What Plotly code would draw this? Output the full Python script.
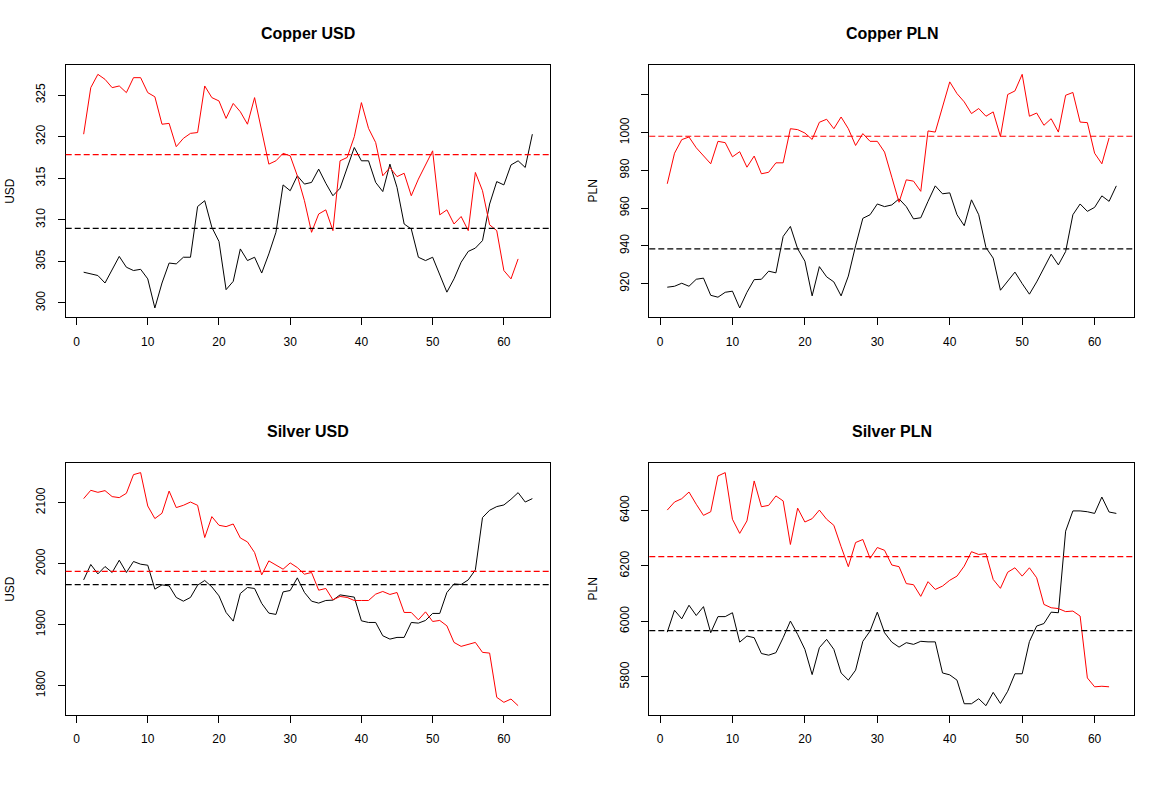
import numpy as np
import plotly.graph_objects as go

# ---------------- data ----------------
titles = ["Copper USD", "Copper PLN", "Silver USD", "Silver PLN"]
units = ["USD", "PLN", "USD", "PLN"]

copper_usd_black = [303.7, 303.5, 303.3, 302.4, 304.0, 305.6, 304.3, 303.9, 304.05, 302.9,
                    299.4, 302.4, 304.8, 304.7, 305.5, 305.5, 311.6, 312.3, 309.1, 307.4,
                    301.6, 302.6, 306.5, 305.1, 305.5, 303.6, 305.9, 308.5, 314.2, 313.5,
                    315.3, 314.3, 314.5, 316.1, 314.4, 312.9, 313.8, 316.3, 318.7, 317.1,
                    317.1, 314.5, 313.4, 316.7, 313.9, 309.5, 308.9, 305.5, 305.1, 305.5,
                    303.5, 301.3, 302.9, 304.9, 306.2, 306.6, 307.5, 311.9, 314.6, 314.2,
                    316.6, 317.1, 316.3, 320.3]
copper_usd_red = [320.3, 325.9, 327.5, 326.9, 325.9, 326.1, 325.3, 327.1, 327.1, 325.3,
                  324.8, 321.5, 321.6, 318.8, 319.8, 320.4, 320.5, 326.1, 324.7, 324.3,
                  322.2, 324.0, 323.0, 321.5, 324.7, 320.8, 316.7, 317.1, 318.0, 317.7,
                  315.3, 312.3, 308.5, 310.7, 311.2, 308.7, 317.1, 317.5, 320.0, 324.1,
                  321.0, 319.3, 315.3, 316.3, 315.2, 315.6, 312.9, 314.9, 316.7, 318.3,
                  310.6, 311.2, 309.5, 310.4, 308.7, 315.7, 313.5, 309.4, 308.7, 303.9,
                  302.9, 305.3]

copper_pln_black = [918.1, 918.6, 920.2, 918.6, 922.3, 922.9, 913.8, 912.8, 915.4, 916.0,
                    907.1, 915.4, 922.1, 922.3, 926.6, 925.7, 945.0, 950.3, 938.5, 931.9,
                    913.5, 929.0, 923.6, 920.9, 913.5, 924.0, 940.0, 954.6, 956.5, 962.2,
                    960.8, 961.7, 964.9, 960.8, 954.3, 954.9, 963.6, 971.8, 967.6, 968.1,
                    956.5, 950.7, 964.4, 956.5, 939.1, 933.5, 916.5, 921.1, 926.1, 920.0,
                    914.4, 920.9, 928.5, 935.6, 929.9, 937.0, 956.5, 962.2, 958.3, 960.4,
                    966.5, 963.6, 971.8]
copper_pln_red = [972.9, 989.1, 996.3, 997.7, 992.0, 987.6, 983.5, 995.4, 994.7, 987.2,
                  989.9, 981.7, 987.6, 978.2, 979.0, 984.0, 984.0, 1002.1, 1001.6, 999.8,
                  996.4, 1005.5, 1007.1, 1002.1, 1008.3, 1002.1, 993.2, 999.5, 995.4, 995.4,
                  989.7, 976.4, 963.1, 975.0, 974.3, 968.9, 1000.9, 1000.3, 1013.6, 1026.9,
                  1020.7, 1016.3, 1010.1, 1012.8, 1008.7, 1011.0, 998.0, 1020.2, 1022.1, 1030.9,
                  1008.7, 1010.4, 1003.9, 1007.4, 1000.3, 1019.8, 1021.3, 1005.6, 1005.3, 989.1,
                  983.5, 997.2]

silver_usd_black = [1973.5, 1998.7, 1983.3, 1995.4, 1985.6, 2005.7, 1985.6, 2003.6, 1999.2, 1997.5,
                    1958.3, 1965.3, 1963.7, 1944.7, 1938.6, 1944.7, 1964.8, 1972.5, 1962.0, 1947.3,
                    1920.1, 1905.9, 1951.2, 1961.0, 1959.4, 1934.9, 1919.0, 1916.9, 1953.8, 1956.1,
                    1976.8, 1952.9, 1938.6, 1935.4, 1939.7, 1940.3, 1948.9, 1946.8, 1945.2, 1906.4,
                    1903.7, 1903.7, 1881.9, 1876.4, 1879.2, 1879.2, 1903.7, 1902.6, 1907.0, 1918.5,
                    1918.5, 1952.8, 1966.9, 1965.9, 1973.5, 1989.9, 2075.6, 2087.6, 2093.6, 2096.3,
                    2105.6, 2116.5, 2101.1, 2106.7]
silver_usd_red = [2106.7, 2120.3, 2117.0, 2119.8, 2110.0, 2108.3, 2115.4, 2146.0, 2149.3, 2094.6,
                  2074.0, 2082.7, 2119.1, 2092.0, 2095.7, 2101.1, 2095.7, 2042.9, 2077.2, 2063.0,
                  2060.8, 2065.1, 2042.2, 2035.7, 2018.3, 1981.7, 2004.6, 1998.0, 1991.0, 2001.3,
                  1993.7, 1982.8, 1985.6, 1956.6, 1959.4, 1940.8, 1946.3, 1944.7, 1939.7, 1939.7,
                  1939.7, 1950.1, 1954.5, 1949.6, 1952.8, 1920.1, 1920.1, 1908.0, 1921.1, 1905.3,
                  1907.0, 1898.2, 1871.0, 1864.5, 1868.2, 1871.0, 1854.7, 1853.5, 1781.0, 1772.8,
                  1778.2, 1767.3]

silver_pln_black = [5961, 6040, 6009, 6058, 6021, 6053, 5959, 6017, 6017, 6031,
                    5925, 5947, 5941, 5884, 5878, 5887, 5941, 6001, 5953, 5899,
                    5808, 5905, 5935, 5899, 5814, 5788, 5824, 5928, 5965, 6033,
                    5959, 5925, 5907, 5923, 5917, 5928, 5926, 5926, 5814, 5807,
                    5788, 5703, 5703, 5721, 5696, 5744, 5704, 5748, 5811, 5811,
                    5927, 5983, 5992, 6033, 6031, 6325, 6398, 6398, 6395, 6389,
                    6448, 6394, 6389]
silver_pln_red = [6401, 6430, 6442, 6466, 6422, 6382, 6395, 6524, 6536, 6368,
                  6317, 6362, 6506, 6413, 6418, 6452, 6434, 6277, 6408, 6358,
                  6370, 6401, 6368, 6346, 6269, 6197, 6284, 6295, 6227, 6266,
                  6256, 6203, 6197, 6136, 6132, 6090, 6143, 6115, 6127, 6148,
                  6163, 6199, 6251, 6241, 6244, 6151, 6119, 6177, 6193, 6163,
                  6193, 6157, 6061, 6049, 6046, 6035, 6037, 6019, 5796, 5764,
                  5766, 5764]

x_ticks = [0, 10, 20, 30, 40, 50, 60]
y_ticks = [[300, 305, 310, 315, 320, 325],
           [920, 940, 960, 980, 1000, 1020],
           [1800, 1900, 2000, 2100],
           [5800, 6000, 6200, 6400]]
y_ticklabels = [["300", "305", "310", "315", "320", "325"],
                ["920", "940", "960", "980", "1000", ""],
                ["1800", "1900", "2000", "2100"],
                ["5800", "6000", "6200", "6400"]]

black_series = [copper_usd_black, copper_pln_black, silver_usd_black, silver_pln_black]
red_series = [copper_usd_red, copper_pln_red, silver_usd_red, silver_pln_red]

# ---------------- layout geometry (pixels) ----------------
W, H = 1168, 797
x_doms_px = [(65.7, 550.3), (649.3, 1134.3), (65.7, 550.3), (649.3, 1134.3)]
y_doms_px = [(65.0, 317.3), (65.0, 317.3), (463.3, 715.0), (463.3, 715.0)]

FONT = "Liberation Sans, Arial, sans-serif"
fig = go.Figure()
annotations = []
shapes = []

for k in range(4):
    xa = "x" if k == 0 else f"x{k+1}"
    ya = "y" if k == 0 else f"y{k+1}"
    blk = np.array(black_series[k], dtype=float)
    red = np.array(red_series[k], dtype=float)
    xb = np.arange(1, len(blk) + 1)
    xr = np.arange(1, len(red) + 1)
    fig.add_trace(go.Scatter(x=xb, y=blk, mode="lines", line=dict(color="black", width=1),
                             xaxis=xa, yaxis=ya, showlegend=False, hoverinfo="skip"))
    fig.add_trace(go.Scatter(x=xr, y=red, mode="lines", line=dict(color="#ff0000", width=1),
                             xaxis=xa, yaxis=ya, showlegend=False, hoverinfo="skip"))

    # R-style 4% padded ranges
    allv = np.concatenate([blk, red])
    lo, hi = allv.min(), allv.max()
    pad = 0.04 * (hi - lo)
    n = max(len(blk), len(red))
    xpad = 0.04 * (n - 1)

    x0p, x1p = x_doms_px[k]
    y0p, y1p = y_doms_px[k]
    xdom = [x0p / W, x1p / W]
    ydom = [1 - y1p / H, 1 - y0p / H]

    axis_common = dict(showgrid=False, zeroline=False, showline=True, mirror=True,
                       linecolor="black", linewidth=1, ticks="outside", ticklen=7,
                       tickwidth=1, tickcolor="black",
                       tickfont=dict(family=FONT, size=12, color="black"))
    fig.update_layout(**{
        ("xaxis" if k == 0 else f"xaxis{k+1}"): dict(
            domain=xdom, anchor=ya, range=[1 - xpad, n + xpad],
            tickvals=x_ticks, ticktext=[str(v) for v in x_ticks],
            ticklabelstandoff=6, **axis_common),
        ("yaxis" if k == 0 else f"yaxis{k+1}"): dict(
            domain=ydom, anchor=xa, range=[lo - pad, hi + pad],
            tickvals=y_ticks[k], ticktext=y_ticklabels[k], tickangle=-90,
            ticklabelstandoff=8, **axis_common),
    })

    # mean (dashed) lines
    for arr, col in ((red, "#ff0000"), (blk, "black")):
        m = float(np.mean(arr))
        shapes.append(dict(type="line", xref=f"{xa} domain", yref=ya, x0=0, x1=1, y0=m, y1=m,
                           line=dict(color=col, width=1.2, dash="6px,3px")))

    # title
    annotations.append(dict(text=f"<b>{titles[k]}</b>", x=(x0p + x1p) / 2 / W,
                            y=1 - (y0p - 32) / H, xref="paper", yref="paper",
                            showarrow=False, xanchor="center", yanchor="middle",
                            font=dict(family=FONT, size=16, color="black")))
    # y axis title
    annotations.append(dict(text=units[k], x=(x0p - 56) / W, y=1 - ((y0p + y1p) / 2) / H,
                            xref="paper", yref="paper", showarrow=False, textangle=-90,
                            xanchor="center", yanchor="middle",
                            font=dict(family=FONT, size=12, color="black")))

fig.update_layout(width=W, height=H, margin=dict(l=0, r=0, t=0, b=0),
                  paper_bgcolor="white", plot_bgcolor="white",
                  annotations=annotations, shapes=shapes, showlegend=False)

fig.write_html("out.html", config={"displayModeBar": False},
               post_script="document.body.style.margin='0';document.body.style.overflow='hidden';")
